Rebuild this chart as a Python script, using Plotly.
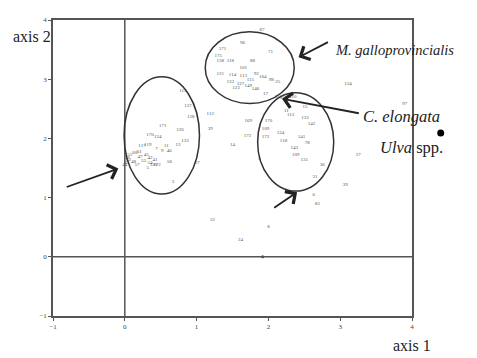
import plotly.graph_objects as go

# ordination scores (axis 1, axis 2) with sample labels
labels = ["113","137","128","171","126","170","124","133","13","11","117","9","46","7","58","17","5","3",
          "55","60","62","47","45","48","49","53","54","41","57","59","120","172","42","61","119","44",
          "112","39","14","1","169","172","22","24","8",
          "87","96","171","175","71","138","118","88","101","121","114","113","92","104","98","25","115",
          "133","127","149","146","17","134","123",
          "110","155","110","15","11","113","133","142","170","109","172","124","118","141","78","143",
          "109","131","36","31","6","83","27","39","97"]
axis1 = [0.81,0.88,0.92,0.53,0.77,0.35,0.46,0.84,0.74,0.58,0.24,0.52,0.62,0.44,0.62,1.01,0.32,0.67,
         0.07,0.14,0.05,0.21,0.30,0.12,0.02,0.26,0.35,0.42,0.17,0.03,0.40,0.45,0.35,0.20,0.32,0.00,
         1.19,1.19,1.50,1.87,1.72,1.71,1.22,1.61,2.00,
         1.91,1.64,1.36,1.30,2.03,1.33,1.47,1.78,1.65,1.33,1.50,1.65,1.83,1.92,2.04,2.13,1.75,
         1.47,1.61,1.72,1.82,1.96,3.11,1.55,
         2.14,2.21,2.34,2.51,2.25,2.31,2.51,2.60,2.00,1.96,1.96,2.17,2.21,2.46,2.54,2.36,
         2.38,2.50,2.75,2.65,2.63,2.68,3.25,3.07,3.90]
axis2 = [2.81,2.56,2.37,2.22,2.14,2.07,2.02,1.96,1.89,1.87,1.87,1.79,1.79,1.82,1.61,1.59,1.50,1.26,
         1.72,1.75,1.64,1.69,1.72,1.60,1.59,1.62,1.59,1.64,1.56,1.68,1.55,1.55,1.67,1.77,1.90,1.55,
         2.42,2.17,1.90,1.65,2.29,2.05,0.62,0.29,0.51,
         3.84,3.62,3.51,3.40,3.47,3.31,3.31,3.31,3.19,3.09,3.07,3.06,3.09,3.04,2.99,2.96,2.99,
         2.96,2.92,2.89,2.84,2.76,2.92,2.85,
         2.70,2.69,2.70,2.54,2.47,2.40,2.35,2.25,2.30,2.17,2.02,2.10,1.96,2.02,1.92,1.84,
         1.72,1.64,1.55,1.36,1.04,0.90,1.72,1.22,2.59]

origin_pt_x = [1.92]
origin_pt_y = [0.0]

species_names = ["<i>M. galloprovincialis</i>", "<i>C. elongata</i>", "<i>Ulva</i> spp."]
ulva_x = [4.40]
ulva_y = [2.09]

axis_range = [-1, 4]
tick_vals = [-1, 0, 1, 2, 3, 4]

fig = go.Figure()
fig.add_trace(go.Scatter(x=axis1, y=axis2, mode="text", text=labels,
                         textfont=dict(family="Liberation Serif", size=5, color="#555555"),
                         hoverinfo="skip", showlegend=False))
fig.add_trace(go.Scatter(x=origin_pt_x, y=origin_pt_y, mode="markers",
                         marker=dict(size=3, color="#444444"), showlegend=False))

# Ulva spp. lies outside the axis range: draw it as an unclipped paper-anchored dot
span = axis_range[1] - axis_range[0]
for ux, uy in zip(ulva_x, ulva_y):
    fig.add_shape(type="circle", xref="paper", yref="paper",
                  xsizemode="pixel", ysizemode="pixel",
                  xanchor=(ux - axis_range[0]) / span, yanchor=(uy - axis_range[0]) / span,
                  x0=-3.5, x1=3.5, y0=-3.5, y1=3.5,
                  fillcolor="black", line=dict(color="black", width=0))

line_col = "#333333"
# reference lines at 0
fig.add_shape(type="line", x0=0, x1=0, y0=-1, y1=4, line=dict(color="#555555", width=1.5))
fig.add_shape(type="line", x0=-1, x1=4, y0=0, y1=0, line=dict(color="#555555", width=1.5))
# ellipses
fig.add_shape(type="circle", x0=-0.01, x1=1.04, y0=1.06, y1=3.04, line=dict(color=line_col, width=1.5))
fig.add_shape(type="circle", x0=1.12, x1=2.36, y0=2.59, y1=3.80, line=dict(color=line_col, width=1.5))
fig.add_shape(type="circle", x0=1.85, x1=2.91, y0=1.11, y1=2.77, line=dict(color=line_col, width=1.5))

# arrows (head, tail)
arrows = [(-0.09, 1.49, -0.83, 1.17), (2.40, 1.09, 2.06, 0.81),
          (2.42, 3.37, 2.85, 3.64), (2.19, 2.67, 3.28, 2.42)]
for hx, hy, tx, ty in arrows:
    fig.add_annotation(x=hx, y=hy, ax=tx, ay=ty, xref="x", yref="y", axref="x", ayref="y",
                       showarrow=True, arrowhead=4, arrowsize=1.6, arrowwidth=1.8,
                       arrowcolor="#222222", text="")

serif = "Liberation Serif"

# positions of free text, expressed relative to the plot area
def px(xp, yp):
    return (xp - 53) / (411.7 - 53), (316 - yp) / (316 - 16)

for name, (xp, yp), fs in zip(species_names, [(333, 46), (361, 114), (378, 145)], [14.5, 16.5, 16.5]):
    xx, yy = px(xp, yp)
    fig.add_annotation(x=xx, y=yy, xref="paper", yref="paper", text=name, showarrow=False,
                       xanchor="left", yanchor="middle",
                       font=dict(family=serif, size=fs, color="#222222"))

xx, yy = px(32, 33)
fig.add_annotation(x=xx, y=yy, xref="paper", yref="paper", text="axis 2", showarrow=False,
                   xanchor="center", yanchor="middle", font=dict(family=serif, size=16, color="#222222"))
xx, yy = px(412, 346)
fig.add_annotation(x=xx, y=yy, xref="paper", yref="paper", text="axis 1", showarrow=False,
                   xanchor="center", yanchor="middle", font=dict(family=serif, size=16, color="#222222"))

axis_common = dict(range=axis_range, tickvals=tick_vals, ticks="outside", ticklen=3, tickwidth=1,
                   tickcolor="#555555", showline=True, linecolor="#555555", linewidth=1.5,
                   mirror=True, showgrid=False, zeroline=False,
                   tickfont=dict(family=serif, size=7, color="#444444"))
fig.update_xaxes(**axis_common)
fig.update_yaxes(**axis_common)

fig.update_layout(width=469, height=350, margin=dict(l=45, r=65, t=8, b=42),
                  paper_bgcolor="white", plot_bgcolor="white", showlegend=False)

fig.write_html("out.html")
